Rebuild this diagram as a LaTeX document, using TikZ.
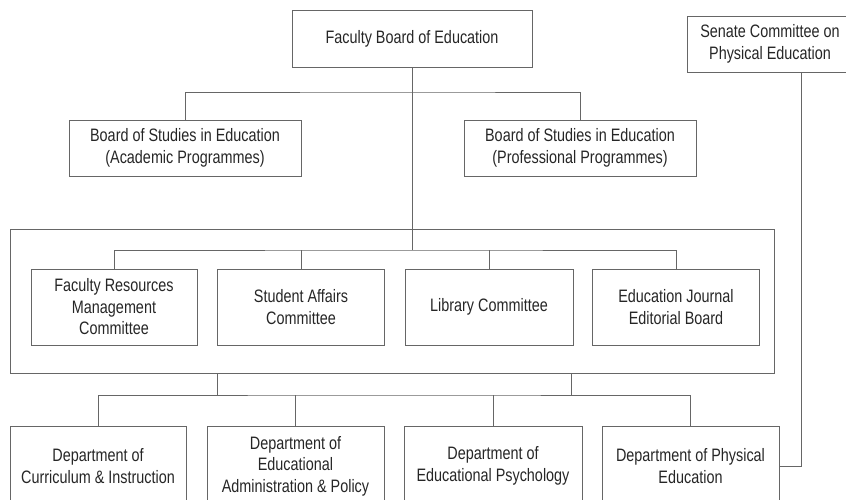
\documentclass[tikz,border=0pt]{standalone}
\usepackage{fontspec}
\setmainfont{Liberation Sans}[FakeStretch=0.8]
\usepackage{tikz}
\usetikzlibrary{calc}

\tikzset{
  unit/.style={draw=black!60, line width=0.8pt, text=black!85, align=center,
    inner sep=2pt, font=\fontsize{18}{21.5}\selectfont},
  link/.style={draw=black!60, line width=0.8pt},
}

\begin{document}
\begin{tikzpicture}[x=1pt, y=-1pt]
    \useasboundingbox (0,0) rectangle (846,499);
    \node[unit, minimum width=240, minimum height=57] (FBE) at (412, 38.5) {Faculty Board of Education};
    \node[unit, minimum width=166, minimum height=56] (SCPE) at (770, 44) {Senate Committee on\\Physical Education};
    \node[unit, minimum width=232, minimum height=56] (BSA) at (185, 148) {Board of Studies in Education\\(Academic Programmes)};
    \node[unit, minimum width=232, minimum height=56] (BSP) at (580, 148) {Board of Studies in Education\\(Professional Programmes)};
    \node[unit, minimum width=764, minimum height=144] (CG) at (392, 301) {};
    \node[unit, minimum width=166, minimum height=76] (C1) at (114, 307) {Faculty Resources\\Management\\Committee};
    \node[unit, minimum width=167, minimum height=76] (C2) at (301, 307) {Student Affairs\\Committee};
    \node[unit, minimum width=168, minimum height=76] (C3) at (489, 307) {Library Committee};
    \node[unit, minimum width=167, minimum height=76] (C4) at (676, 307) {Education Journal\\Editorial Board};
    \node[unit, minimum width=176, minimum height=80] (D1) at (98, 466) {Department of\\Curriculum \& Instruction};
    \node[unit, minimum width=177, minimum height=80] (D2) at (295.5, 466) {Department of\\Educational\\Administration \& Policy};
    \node[unit, minimum width=178, minimum height=80] (D3) at (493, 466) {Department of\\Educational Psychology};
    \node[unit, minimum width=177, minimum height=80] (D4) at (690.5, 466) {Department of Physical\\Education};
    % joints
    \coordinate (BBar) at (412, 92);
    \coordinate (CBar) at (412, 250);
    \coordinate (DBar) at (394, 395);
    \coordinate (GL) at (217, 373);
    \coordinate (GR) at (571, 373);
    \coordinate (SX) at (801, 72);
    % boards
    \draw[link] (FBE.south) -- (CBar);
    \draw[link] (BSA.north) |- (BBar) -| (BSP.north);
    % committees
    \draw[link] (C1.north) |- (CBar) -| (C4.north);
    \draw[link] (C2.north) -- (C2.north |- CBar);
    \draw[link] (C3.north) -- (C3.north |- CBar);
    % departments
    \draw[link] (GL) -- (GL |- DBar);
    \draw[link] (GR) -- (GR |- DBar);
    \draw[link] (D1.north) |- (DBar) -| (D4.north);
    \draw[link] (D2.north) -- (D2.north |- DBar);
    \draw[link] (D3.north) -- (D3.north |- DBar);
    \draw[link] (SX) |- (D4.east);
\end{tikzpicture}
\end{document}
